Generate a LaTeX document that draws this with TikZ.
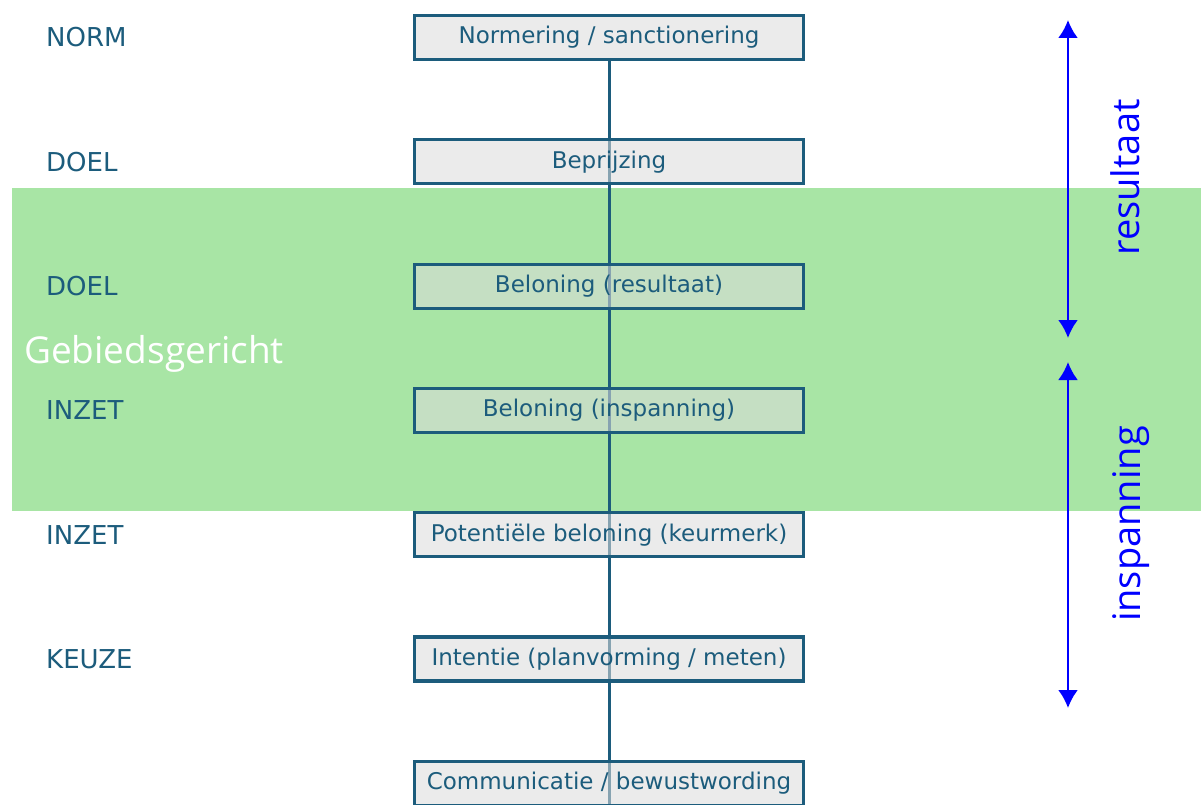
\documentclass[tikz,border=0pt]{standalone}
\usepackage{fontspec}
\setmainfont{DejaVu Sans}
\newfontfamily\opensans{Open Sans}
\usetikzlibrary{arrows.meta,backgrounds,positioning}
\definecolor{lineteal}{RGB}{28,92,124}
\definecolor{bandgreen}{RGB}{168,229,165}
\definecolor{boxgray}{RGB}{220,220,220}
\tikzstyle{block} = [draw=lineteal, line width=3.2pt, fill=boxgray, fill opacity=0.56, text opacity=1, text=lineteal, rectangle, minimum height=44pt, minimum width=389pt, font=\fontsize{23}{27}\selectfont]
\tikzstyle{levellabel} = [text=lineteal, anchor=west, inner sep=0pt, font=\fontsize{26}{31}\selectfont]
\tikzstyle{spanarrow} = [blue, line width=2.5pt, <->]
\tikzstyle{spantext} = [text=blue, rotate=90, anchor=base, inner sep=0pt, font=\opensans\fontsize{38}{44}\selectfont]

\begin{document}
\begin{tikzpicture}[auto, x=1pt, y=1pt, node distance=124.3pt, >={Latex[length=18pt,width=20pt]}]
\useasboundingbox (0,0) rectangle (1201,-805);

\node [block] (norm) at (609,-37.5) {Normering / sanctionering};
\node [block, below of=norm] (prijs) {Beprijzing};
\node [block, below of=prijs] (belres) {Beloning (resultaat)};
\node [block, below of=belres] (belins) {Beloning (inspanning)};
\node [block, below of=belins] (keur) {Potentiële beloning (keurmerk)};
\node [block, below of=keur] (intentie) {Intentie (planvorming / meten)};
\node [block, below of=intentie] (comm) {Communicatie / bewustwording};

\coordinate (lx) at (46,0);
\node [levellabel] at (lx |- norm) {NORM};
\node [levellabel] at (lx |- prijs) {DOEL};
\node [levellabel] at (lx |- belres) {DOEL};
\node [levellabel] at (lx |- belins) {INZET};
\node [levellabel] at (lx |- keur) {INZET};
\node [levellabel] at (lx |- intentie) {KEUZE};

\begin{scope}[on background layer]
\fill [bandgreen] (12,-188) rectangle (1201,-511);
\draw [lineteal, line width=3pt] (norm.south) -- (comm.south);
\end{scope}

\node [anchor=base west, inner sep=0pt, text=white, font=\opensans\fontsize{37}{44}\selectfont] (gebied) at (24,-363) {Gebiedsgericht};

\coordinate (restop) at (1068,-20);
\coordinate (resbot) at (1068,-338);
\coordinate (instop) at (1068,-362);
\coordinate (insbot) at (1068,-708);
\draw [spanarrow] (restop) -- (resbot);
\draw [spanarrow] (instop) -- (insbot);
\node [spantext] (res) at (1139,-177.5) {resultaat};
\node [spantext] (ins) at (1140,-524) {inspanning};
\end{tikzpicture}
\end{document}
